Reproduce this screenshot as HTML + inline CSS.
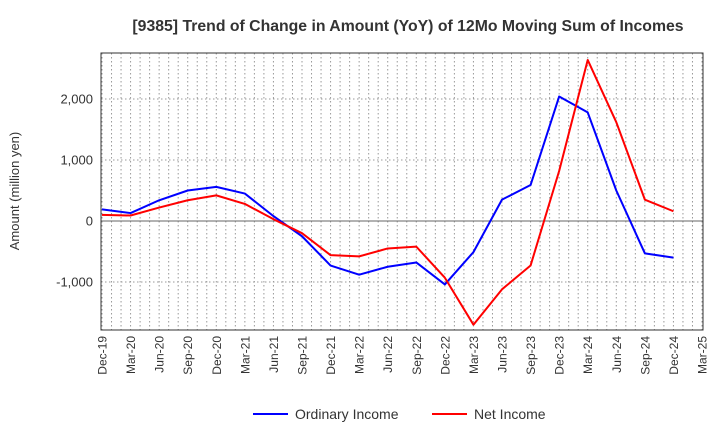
<!DOCTYPE html>
<html><head><meta charset="utf-8"><style>
body{margin:0;background:#fff;font-family:"Liberation Sans",sans-serif}
</style></head><body>
<svg id="c" width="720" height="440" xmlns="http://www.w3.org/2000/svg" font-family="Liberation Sans, sans-serif">
<text x="408" y="31" text-anchor="middle" font-size="15.8" font-weight="bold" fill="#333">[9385]  Trend of Change in Amount (YoY) of 12Mo Moving Sum of Incomes</text>
<text transform="translate(19,191) rotate(-90)" text-anchor="middle" font-size="13" fill="#333">Amount (million yen)</text>
<g id="grid"></g><g id="axes"></g><g id="series"></g>
<g>
<line x1="253" y1="414" x2="288" y2="414" stroke="#0000ff" stroke-width="2"/>
<text x="295" y="419" font-size="14" fill="#333">Ordinary Income</text>
<line x1="432" y1="414" x2="467" y2="414" stroke="#ff0000" stroke-width="2"/>
<text x="474" y="419" font-size="14" fill="#333">Net Income</text>
</g>
</svg>
<script>
const categories=["Dec-19","Mar-20","Jun-20","Sep-20","Dec-20","Mar-21","Jun-21","Sep-21","Dec-21","Mar-22","Jun-22","Sep-22","Dec-22","Mar-23","Jun-23","Sep-23","Dec-23","Mar-24","Jun-24","Sep-24","Dec-24","Mar-25"];
const ordinaryIncome=[190,130,340,500,560,450,80,-250,-730,-880,-750,-680,-1040,-510,350,590,2040,1780,500,-530,-600];
const netIncome=[100,90,220,340,420,280,30,-200,-560,-580,-450,-420,-930,-1700,-1120,-730,820,2640,1620,350,160];
const yTicks=[2000,1000,0,-1000];
const yTickLabels=["2,000","1,000","0","-1,000"];
const L=101,R=703,T=53,B=330;
const x=i=>L+1+i*(600/21);
const y=v=>221-v*0.061;
const ns="http://www.w3.org/2000/svg";
function mk(p,t,a){const e=document.createElementNS(ns,t);for(const k in a)e.setAttribute(k,a[k]);p.appendChild(e);return e;}
const g=document.getElementById('grid'),ax=document.getElementById('axes'),s=document.getElementById('series');
for(let m=0;m<=63;m++){const xx=L+1+m*600/63;
const l=mk(g,'line',{x1:xx,x2:xx,y1:T,y2:B,stroke:'#999','stroke-dasharray':'1.5,2.5','stroke-width':1});

}
yTicks.forEach((v,i)=>{const yy=y(v);
const l=mk(g,'line',{x1:L,x2:R,y1:yy,y2:yy,stroke:v===0?'#666':'#999','stroke-dasharray':v===0?'none':'1.5,2.5','stroke-width':1});


const t=mk(ax,'text',{x:L-8,y:yy+4.5,'text-anchor':'end','font-size':13,fill:'#333'});t.textContent=yTickLabels[i];

});
const fr=mk(ax,'rect',{x:L,y:T,width:R-L,height:B-T,fill:'none',stroke:'#333','stroke-width':1});


categories.forEach((c,i)=>{const xx=x(i);
const t=mk(ax,'text',{transform:`translate(${xx+4.5},${B+6}) rotate(-90)`,'text-anchor':'end','font-size':12,fill:'#333'});t.textContent=c;

});
function line(d,col,name){const p=mk(s,'polyline',{points:d.map((v,i)=>x(i)+','+y(v)).join(' '),fill:'none',stroke:col,'stroke-width':2,'stroke-linejoin':'round'});

}
line(ordinaryIncome,'#0000ff','ordinary-income-line');
line(netIncome,'#ff0000','net-income-line');
</script>
</body></html>
